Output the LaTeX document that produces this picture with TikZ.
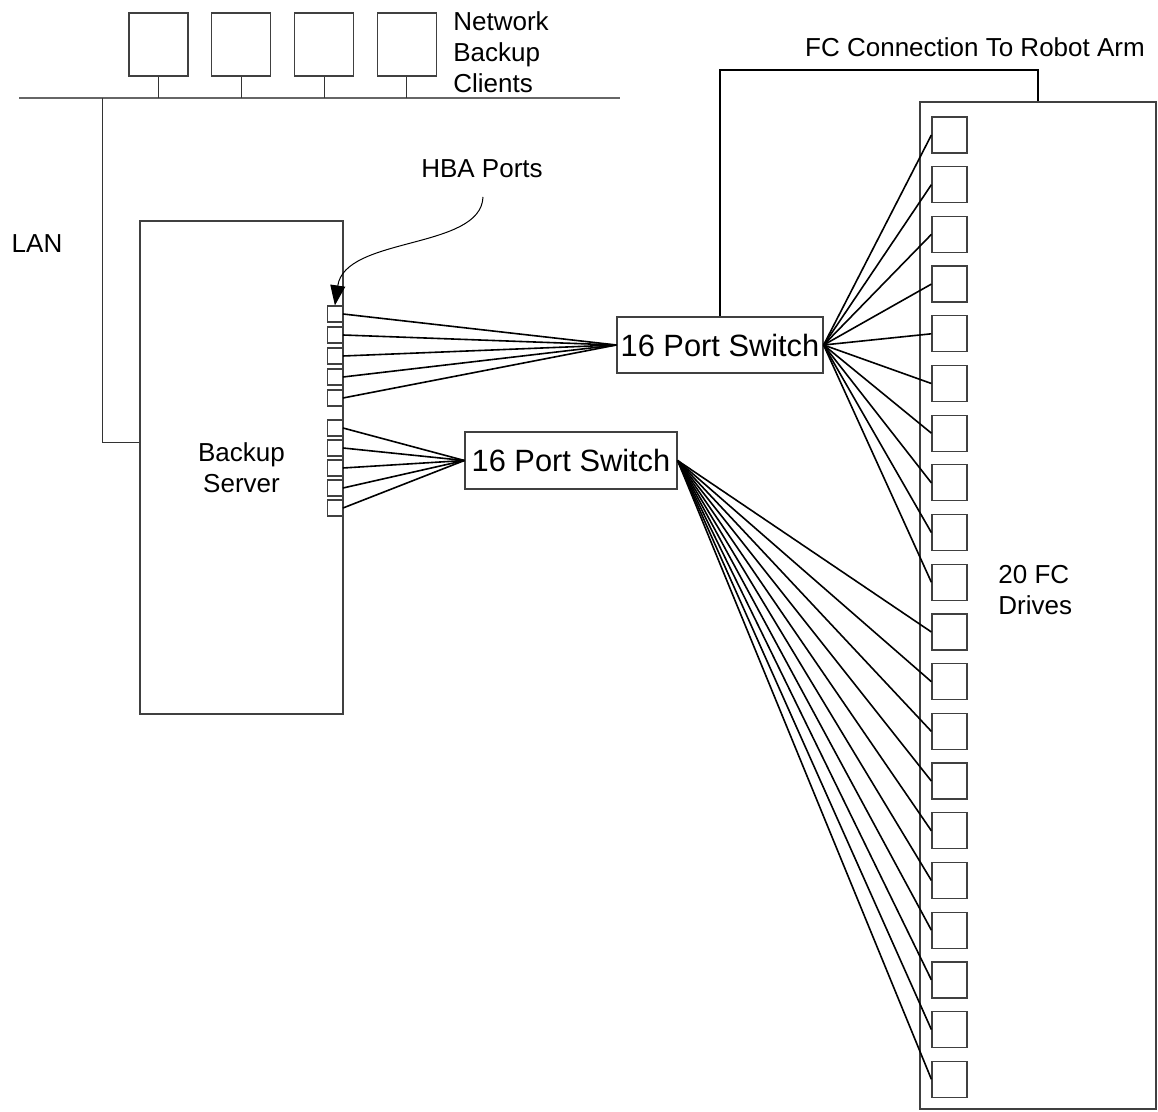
\documentclass[tikz,border=0pt]{standalone}
\usepackage{fontspec}
\setmainfont{Liberation Sans}
\usetikzlibrary{arrows.meta}
\tikzset{
  x=0.5pt, y=-0.5pt,
  unit/.style={draw=black!75, line width=0.6pt, inner sep=0pt},
  client/.style={unit, minimum width=29.5pt, minimum height=31.5pt},
  port/.style={unit, minimum width=7.5pt, minimum height=8pt},
  drive/.style={unit, minimum width=17.5pt, minimum height=18pt},
  switchbox/.style={unit, font=\fontsize{15.4}{18}\selectfont},
  lbl/.style={inner sep=0pt, font=\fontsize{13}{15.5}\selectfont},
  cable/.style={line width=0.8pt},
  wire/.style={draw=black!80, line width=0.5pt},
}
\begin{document}
\begin{tikzpicture}
\useasboundingbox (0,0) rectangle (1158,1112);
% LAN and clients
\coordinate (lanL) at (19,98);
\coordinate (lanR) at (620,98);
\draw[draw=black!60, line width=0.75pt] (lanL) -- (lanR);
\foreach \i in {0,...,3} {
  \node[client] (c\i) at ({158.5+82.8*\i},44.5) {};
  \draw[wire] (c\i.south) -- (c\i.south |- lanL);
}
\node[lbl, anchor=west, align=left] (clbl) at (453,52) {Network\\Backup\\Clients};
\node[lbl] (lanlbl) at (37,244) {LAN};
% backup server with HBA ports
\node[unit, minimum width=101.5pt, minimum height=246.5pt, align=center,
  font=\fontsize{13}{15.5}\selectfont] (srv) at (241.5,467.5) {Backup\\Server};
\coordinate (lanT) at (102,98);
\coordinate (lanY) at (0,443);
\draw[wire] (lanT) |- (srv.west |- lanY);
\foreach \i in {1,...,5}
  \node[port, anchor=east] (p\i) at (343,{314+21*(\i-1)}) {};
\foreach \i in {6,...,10}
  \node[port, anchor=east] (p\i) at (343,{428+20*(\i-6)}) {};
\node[lbl] (hba) at (482,169) {HBA Ports};
\coordinate (hbaT) at (483,197);
\draw[line width=0.5pt, -{Triangle[length=10pt, width=7.5pt]}]
  (hbaT) .. controls (481,250) and (345,236) .. (p1.north);
% switches
\node[switchbox, minimum width=103pt, minimum height=28pt] (sw1) at (720,345) {16 Port Switch};
\node[switchbox, minimum width=106pt, minimum height=28.5pt] (sw2) at (571,460.5) {16 Port Switch};
\foreach \i in {1,...,5} \draw[cable] (p\i.east) -- (sw1.west);
\foreach \i in {6,...,10} \draw[cable] (p\i.east) -- (sw2.west);
% tape library with drives
\node[unit, minimum width=118pt, minimum height=503.5pt] (lib) at (1038,605.5) {};
\foreach \i in {0,...,19}
  \node[drive] (d\i) at (949.5,{135+49.7*\i}) {};
\foreach \i in {0,...,9} \draw[cable] (sw1.east) -- (d\i.west);
\foreach \i in {10,...,19} \draw[cable] (sw2.east) -- (d\i.west);
\node[lbl, anchor=west, align=left] (dlbl) at (998,590) {20 FC\\Drives};
% robot arm link
\coordinate (arm) at (880,70);
\draw[cable] (sw1.north) |- (arm) -| (lib.north);
\node[lbl] (fclbl) at (975,47) {FC Connection To Robot Arm};
\end{tikzpicture}
\end{document}
